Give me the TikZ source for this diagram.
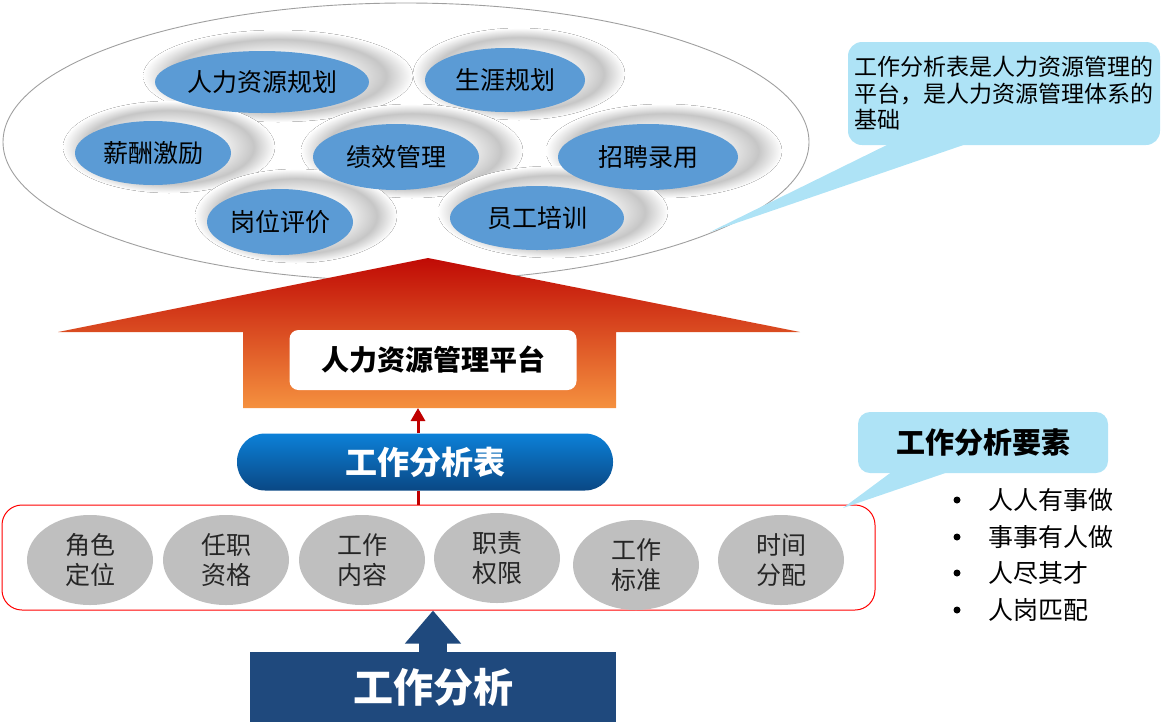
\documentclass[tikz,border=0pt]{standalone}
\usepackage{fontspec}
\setmainfont{Noto Sans CJK SC}
\usetikzlibrary{shapes.geometric,arrows.meta}
\definecolor{ellblue}{HTML}{5B9BD5}
\definecolor{silver}{HTML}{BFBFBF}
\definecolor{darktext}{HTML}{262626}
\definecolor{callblue}{HTML}{AEE3F6}
\definecolor{navy}{HTML}{1F497D}
\definecolor{darkred}{HTML}{C00000}
\definecolor{arrtop}{HTML}{C00A05}
\definecolor{arrmid}{HTML}{E0441C}
\definecolor{arrbot}{HTML}{F5913F}
\definecolor{tbltop}{HTML}{0C80D8}
\definecolor{tblbot}{HTML}{0A4784}
\definecolor{halogray}{HTML}{C6C6C6}
\definecolor{halolight}{HTML}{F0F0F0}
\pgfdeclareradialshading{halo}{\pgfpoint{0bp}{0bp}}{color(0bp)=(white); color(13bp)=(halolight); color(20bp)=(halogray); color(25bp)=(white); color(50bp)=(white)}
\begin{document}
\begin{tikzpicture}[x=1pt,y=-1pt,
  blueell/.style={ellipse, fill=ellblue, inner sep=0pt, text=black, font=\fontsize{25}{25}\selectfont},
  grayell/.style={ellipse, fill=silver, inner sep=0pt, align=center, text=darktext,
    font=\fontsize{25}{30}\selectfont, minimum width=126pt, minimum height=90pt},
  callbox/.style={fill=callblue, rounded corners=14pt, inner sep=0pt},
  listitem/.style={anchor=west, inner sep=0pt, font=\fontsize{25}{25}\selectfont},
  haloshade/.style={shading=halo}
]
\useasboundingbox (0,0) rectangle (1162,724);

% big ellipse
\node[ellipse, draw=gray!75, line width=0.9pt, minimum width=806pt, minimum height=278pt, inner sep=0pt] (cloud) at (406,142) {};

% halos
\fill[haloshade] (278,76) ellipse [x radius=135pt, y radius=46pt];
\fill[haloshade] (519,74) ellipse [x radius=106pt, y radius=46pt];
\fill[haloshade] (169,147) ellipse [x radius=106pt, y radius=46pt];
\fill[haloshade] (412,151) ellipse [x radius=111pt, y radius=47pt];
\fill[haloshade] (664,151) ellipse [x radius=118pt, y radius=47pt];
\fill[haloshade] (296,216) ellipse [x radius=101pt, y radius=47pt];
\fill[haloshade] (553,212) ellipse [x radius=115pt, y radius=46pt];

% blue ellipses
\node[blueell, minimum width=214pt, minimum height=62pt] (b1) at (262,82) {人力资源规划};
\node[blueell, minimum width=160pt, minimum height=64pt] (b2) at (505,80) {生涯规划};
\node[blueell, minimum width=156pt, minimum height=64pt] (b3) at (153,153) {薪酬激励};
\node[blueell, minimum width=166pt, minimum height=66pt] (b4) at (396,157) {绩效管理};
\node[blueell, minimum width=180pt, minimum height=66pt] (b5) at (648,157) {招聘录用};
\node[blueell, minimum width=146pt, minimum height=66pt] (b6) at (280,222) {岗位评价};
\node[blueell, minimum width=174pt, minimum height=64pt] (b7) at (537,218) {员工培训};

% callout top right
\fill[callblue] (897,140) -- (710,232) -- (978,140) -- cycle;
\node[callbox, minimum width=312pt, minimum height=103pt, align=left,
  font=\fontsize{23}{26.5}\selectfont, text=black] (note) at (1004,93.5)
  {工作分析表是人力资源管理的\\平台，是人力资源管理体系的\\基础};

% big red/orange arrow
\shade[top color=arrtop, middle color=arrmid, bottom color=arrbot]
  (428,258) -- (800,332) -- (616,332) -- (616,408) -- (243,408) -- (243,332) -- (58,332) -- cycle;
\coordinate (shaftbot) at (418,408);

\node[fill=white, rounded corners=9pt, minimum width=287pt, minimum height=60pt,
  font=\bfseries\fontsize{28}{28}\selectfont] (plat) at (433,360) {人力资源管理平台};

% job analysis table
\node[rounded corners=28pt, minimum width=376pt, minimum height=57pt,
  top color=tbltop, bottom color=tblbot, text=white,
  font=\bfseries\fontsize{32}{32}\selectfont] (tbl) at (425,462) {工作分析表};

% red frame with elements
\node[draw=red, line width=1pt, rounded corners=20pt, minimum width=873pt, minimum height=105pt] (elem) at (438.5,557.5) {};

\draw[darkred, line width=3pt] (elem.north -| shaftbot) -- (tbl.south -| shaftbot);
\draw[darkred, line width=3pt, -{Triangle[width=14pt,length=13pt]}] (tbl.north -| shaftbot) -- (shaftbot);

\node[grayell] (e1) at (90,560) {角色\\定位};
\node[grayell] (e2) at (226,560) {任职\\资格};
\node[grayell] (e3) at (362,560) {工作\\内容};
\node[grayell] (e4) at (497,558) {职责\\权限};
\node[grayell] (e5) at (636,565) {工作\\标准};
\node[grayell] (e6) at (781,560) {时间\\分配};

% bottom box and arrow
\node[fill=navy, minimum width=366pt, minimum height=70pt, text=white,
  font=\bfseries\fontsize{40}{40}\selectfont] (ana) at (433,687) {工作分析};
\draw[navy, line width=28pt, -{Triangle[width=54pt,length=33pt]}] (ana.north) -- (ana.north |- elem.south);

% callout elements
\fill[callblue] (897,468) -- (843,508) -- (960,468) -- cycle;
\node[callbox, rounded corners=12pt, minimum width=250pt, minimum height=61pt,
  font=\bfseries\fontsize{29}{29}\selectfont, text=black] (ys) at (983,442.5) {工作分析要素};

% list
\fill (957,500) circle (3.5pt);
\fill (957,537) circle (3.5pt);
\fill (957,573) circle (3.5pt);
\fill (957,610) circle (3.5pt);
\node[listitem] (l1) at (988,500) {人人有事做};
\node[listitem] (l2) at (988,537) {事事有人做};
\node[listitem] (l3) at (988,573) {人尽其才};
\node[listitem] (l4) at (988,610) {人岗匹配};
\end{tikzpicture}
\end{document}
